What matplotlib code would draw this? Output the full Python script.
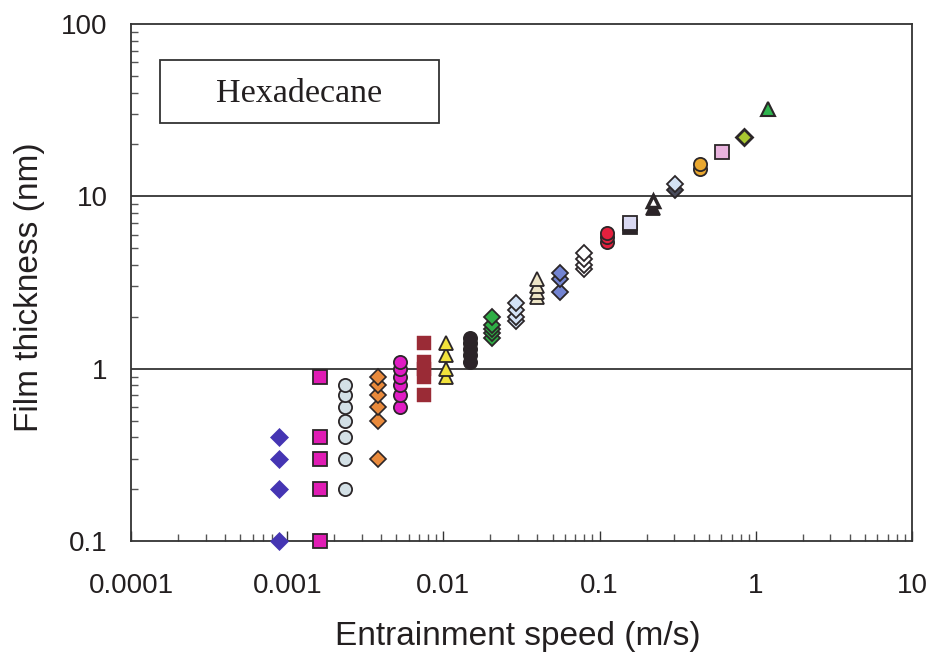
import matplotlib
matplotlib.use("Agg")
import matplotlib.pyplot as plt
import numpy as np
from matplotlib.ticker import LogLocator, NullFormatter, FixedLocator, FixedFormatter
from matplotlib.patches import Rectangle

# ---------------- data ----------------
speed_a = 0.00089; thick_a = [0.1, 0.2, 0.3, 0.4]                 # blue diamonds
speed_b = 0.00163; thick_b = [0.1, 0.2, 0.3, 0.4, 0.9]            # magenta squares
speed_c = 0.00236; thick_c = [0.2, 0.3, 0.4, 0.5, 0.6, 0.7, 0.8]  # grey circles
speed_d = 0.00383; thick_d = [0.3, 0.5, 0.6, 0.7, 0.8, 0.9]       # orange diamonds
speed_e = 0.0053;  thick_e = [0.6, 0.7, 0.8, 0.9, 1.0, 1.1]       # magenta circles
speed_f = 0.00755; thick_f = [0.7, 0.9, 1.0, 1.1, 1.4]            # dark red squares
speed_g = 0.0104;  thick_g = [0.9, 1.0, 1.2, 1.4]                 # yellow triangles
speed_h = 0.0147;  thick_h = [1.1, 1.2, 1.3, 1.4, 1.5]            # black circles
speed_i = 0.0206;  thick_i = [1.5, 1.6, 1.7, 1.8, 2.0]            # green diamonds
speed_j = 0.029;   thick_j = [1.9, 2.0, 2.2, 2.4]                 # pale blue diamonds
speed_k = 0.040;   thick_k = [2.6, 2.8, 3.0, 3.3]                 # cream triangles
speed_l = 0.056;   thick_l = [2.8, 3.3, 3.6]                      # slate blue diamonds
speed_m = 0.079;   thick_m = [3.8, 4.0, 4.3, 4.7]                 # white diamonds
speed_n = 0.112;   thick_n = [5.4, 5.8, 6.1]                      # red circles
speed_o = 0.156;   thick_o = [6.6]                                # black square
speed_p = 0.156;   thick_p = [7.0]                                # lavender square
speed_q = 0.219;   thick_q = [8.6]                                # black triangle
speed_r = 0.219;   thick_r = [9.4]                                # white triangle
speed_s = 0.303;   thick_s = [10.9]                               # dark diamond
speed_t = 0.303;   thick_t = [11.8]                               # pale blue diamond
speed_u = 0.437;   thick_u = [14.5, 15.5]                         # gold circles
speed_v = 0.605;   thick_v = [18.0]                               # pink square
speed_w = 0.838;   thick_w = [22.0]                               # yellow-green diamond
speed_x = 1.19;    thick_x = [32.0]                               # green triangle

x_ticks = [0.0001, 0.001, 0.01, 0.1, 1, 10]
x_tick_labels = ["0.0001", "0.001", "0.01", "0.1", "1", "10"]
y_ticks = [0.1, 1, 10, 100]
y_tick_labels = ["0.1", "1", "10", "100"]

# ---------------- styling ----------------
EC = "#2b2628"
DS = 8.6
series = [
    (speed_a, thick_a, dict(marker="D", ms=9.2, mfc="#4535b3", mec="#4535b3", mew=0.5)),
    (speed_b, thick_b, dict(marker="s", ms=9.5, mfc="#e01cb4", mec=EC, mew=1.3)),
    (speed_c, thick_c, dict(marker="o", ms=9.5, mfc="#d3e0e6", mec=EC, mew=1.3)),
    (speed_d, thick_d, dict(marker="D", ms=8.0, mfc="#e98a3c", mec=EC, mew=1.2)),
    (speed_e, thick_e, dict(marker="o", ms=9.5, mfc="#e01cc4", mec=EC, mew=1.3)),
    (speed_f, thick_f, dict(marker="s", ms=10, mfc="#9a2b36", mec="#9a2b36", mew=0.3)),
    (speed_g, thick_g, dict(marker="^", ms=10, mfc="#f2e23c", mec=EC, mew=1.3)),
    (speed_h, thick_h, dict(marker="o", ms=9.5, mfc="#2c2429", mec=EC, mew=1.3)),
    (speed_i, thick_i, dict(marker="D", ms=DS, mfc="#2fae45", mec=EC, mew=1.3)),
    (speed_j, thick_j, dict(marker="D", ms=DS, mfc="#d3e2f6", mec=EC, mew=1.3)),
    (speed_k, thick_k, dict(marker="^", ms=10, mfc="#ede5c7", mec=EC, mew=1.3)),
    (speed_l, thick_l, dict(marker="D", ms=DS, mfc="#7384d2", mec=EC, mew=1.3)),
    (speed_m, thick_m, dict(marker="D", ms=DS, mfc="#ffffff", mec=EC, mew=1.3)),
    (speed_n, thick_n, dict(marker="o", ms=9.5, mfc="#e3203e", mec=EC, mew=1.3)),
    (speed_o, thick_o, dict(marker="s", ms=9.5, mfc="#2c2429", mec=EC, mew=1.3)),
    (speed_p, thick_p, dict(marker="s", ms=9.5, mfc="#d9d9f2", mec=EC, mew=1.3)),
    (speed_q, thick_q, dict(marker="^", ms=10, mfc="#2c2429", mec=EC, mew=1.3)),
    (speed_r, thick_r, dict(marker="^", ms=9, mfc="#ffffff", mec=EC, mew=2.5)),
    (speed_s, thick_s, dict(marker="D", ms=DS, mfc="#4a4c5c", mec=EC, mew=1.3)),
    (speed_t, thick_t, dict(marker="D", ms=DS, mfc="#d3e2f4", mec=EC, mew=1.3)),
    (speed_u, thick_u, dict(marker="o", ms=9.5, mfc="#e9a72f", mec=EC, mew=1.3)),
    (speed_v, thick_v, dict(marker="s", ms=9.5, mfc="#e9b3de", mec=EC, mew=1.3)),
    (speed_w, thick_w, dict(marker="D", ms=DS, mfc="#a9c830", mec=EC, mew=2.0)),
    (speed_x, thick_x, dict(marker="^", ms=10.5, mfc="#2fb44e", mec=EC, mew=1.5)),
]

plt.rcParams["font.family"] = ["Liberation Sans", "DejaVu Sans"]

fig = plt.figure(figsize=(9.32, 6.58), dpi=100)
ax = fig.add_axes([131 / 932, 1 - 541 / 658, 781 / 932, 517 / 658])
ax.set_xscale("log")
ax.set_yscale("log")
ax.set_xlim(1e-4, 10)
ax.set_ylim(0.1, 100)

for yv in [1, 10]:
    ax.axhline(yv, color="#222222", lw=1.2, zorder=1)

for sx, sy, st in series:
    ax.plot([sx] * len(sy), sy, ls="none", zorder=3, clip_on=False, **st)

ax.xaxis.set_major_locator(FixedLocator(x_ticks))
ax.xaxis.set_major_formatter(FixedFormatter(x_tick_labels))
ax.yaxis.set_major_locator(FixedLocator(y_ticks))
ax.yaxis.set_major_formatter(FixedFormatter(y_tick_labels))
ax.xaxis.set_minor_locator(LogLocator(base=10, subs=np.arange(2, 10), numticks=20))
ax.yaxis.set_minor_locator(LogLocator(base=10, subs=np.arange(2, 10), numticks=20))
ax.xaxis.set_minor_formatter(NullFormatter())
ax.yaxis.set_minor_formatter(NullFormatter())

ax.tick_params(axis="x", which="major", direction="in", length=7, width=1.0,
               color="#333333", labelsize=20, pad=23, labelcolor="#231f20")
ax.tick_params(axis="y", which="major", direction="in", length=0, width=1.0,
               labelsize=20, pad=17, labelcolor="#231f20")
ax.tick_params(which="minor", direction="in", length=5, width=1.0, color="#555555")
ax.tick_params(top=False, right=False, which="both")

for sp in ax.spines.values():
    sp.set_color("#333333")
    sp.set_linewidth(1.3)

fig.text(518 / 932, 1 - 636 / 658, "Entrainment speed (m/s)", ha="center", va="center",
         fontsize=24, color="#231f20")
fig.text(30 / 932, 1 - 287 / 658, "Film thickness (nm)", ha="center", va="center",
         rotation=90, fontsize=24, color="#231f20")

ax.text((299 - 131) / 781, 1 - (94 - 24) / 517, "Hexadecane", transform=ax.transAxes,
        ha="center", va="center", fontsize=24.5,
        family=["Liberation Serif", "DejaVu Serif"], color="#231f20")
ax.add_patch(Rectangle(((160 - 131) / 781, 1 - (123 - 24) / 517), (439 - 160) / 781, 63 / 517,
                       transform=ax.transAxes, fill=False, ec="#333333", lw=1.3, zorder=4))

fig.savefig("out.png", dpi=100)
